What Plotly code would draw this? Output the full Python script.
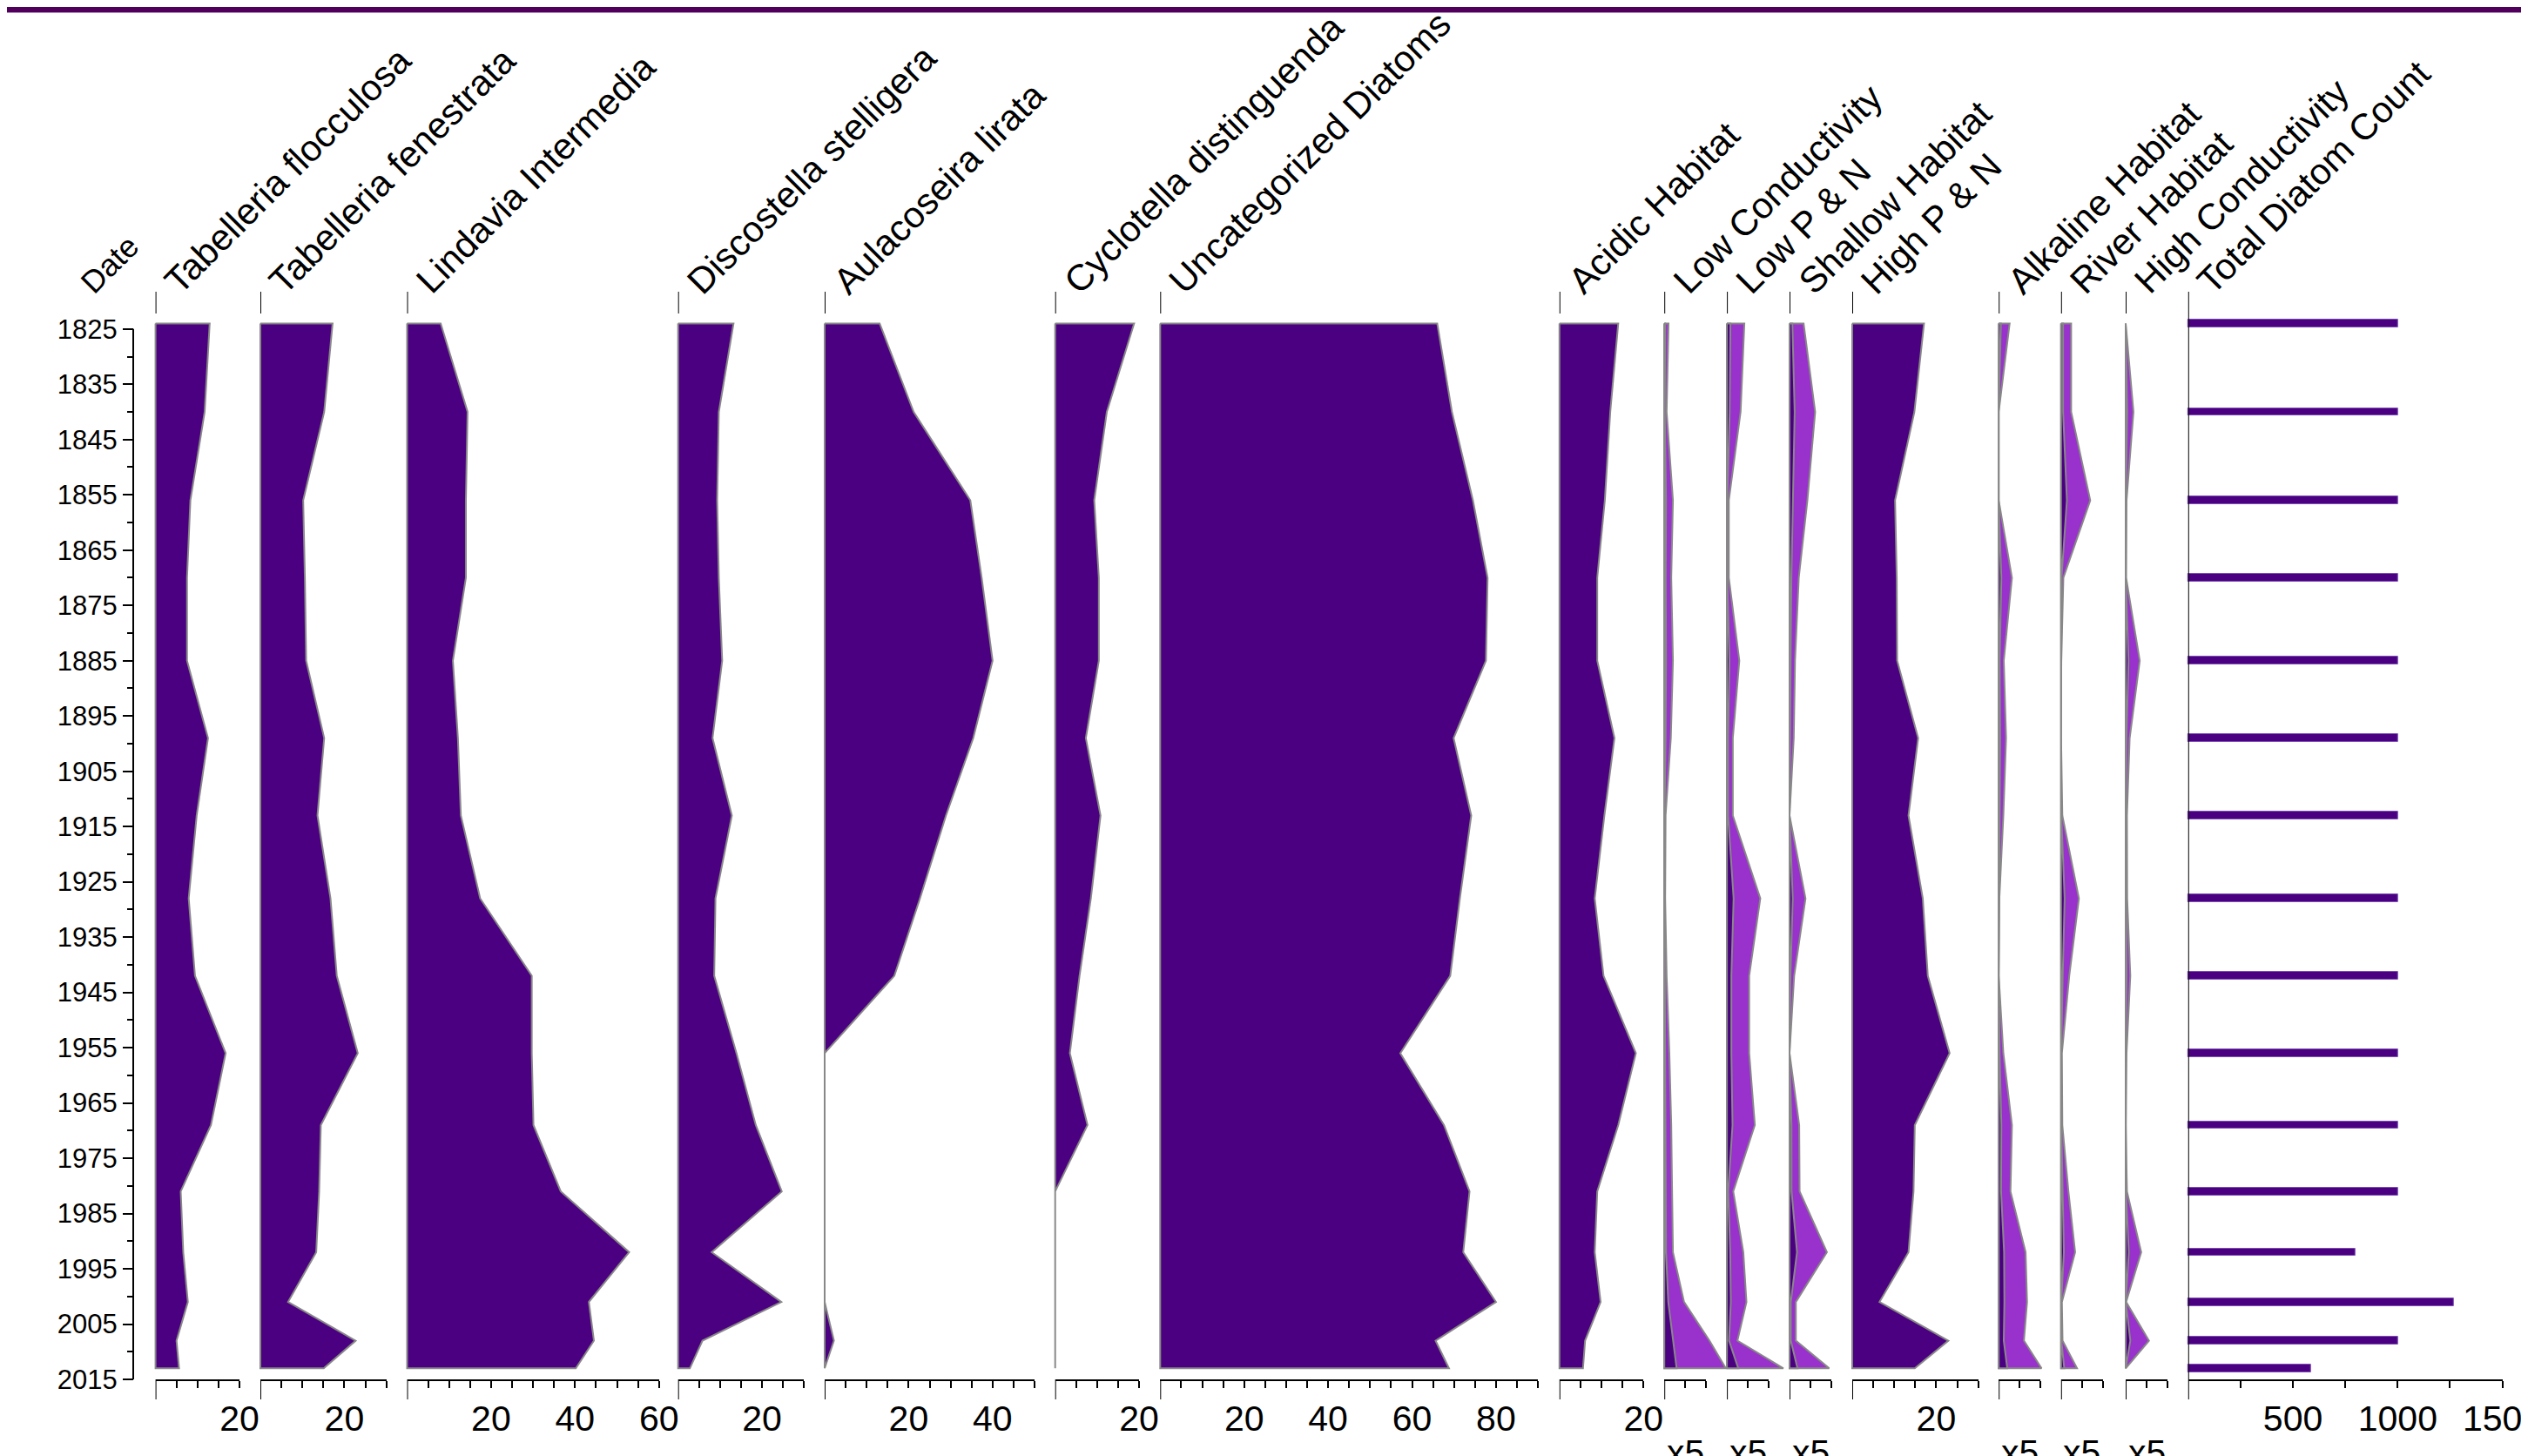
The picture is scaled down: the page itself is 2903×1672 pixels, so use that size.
import plotly.graph_objects as go

# ---------------- data ----------------
years = [1824, 1840, 1856, 1870, 1885, 1899, 1913, 1928, 1942, 1956, 1969, 1981, 1992, 2001, 2008, 2013]

tabelleria_flocculosa = [12.9, 11.7, 8.3, 7.5, 7.5, 12.5, 9.8, 7.9, 9.4, 16.7, 13.2, 6.0, 6.6, 7.7, 5.0, 5.6]
tabelleria_fenestrata = [17.2, 15.2, 10.2, 10.6, 10.9, 15.2, 13.6, 16.7, 18.2, 23.2, 14.4, 14.0, 13.3, 6.6, 22.7, 15.1]
lindavia_intermedia = [8.0, 14.4, 14.0, 14.0, 10.9, 12.1, 12.8, 17.4, 29.7, 29.7, 30.1, 36.6, 52.9, 43.3, 44.5, 40.2]
discostella_stelligera = [13.2, 9.7, 9.3, 9.7, 10.5, 8.2, 12.8, 8.9, 8.6, 13.9, 18.5, 24.7, 8.0, 24.6, 5.8, 2.8]
aulacoseira_lirata = [13.1, 21.2, 34.7, 37.4, 40.0, 35.4, 28.9, 22.7, 16.6, 0, 0, 0, 0, 0, 2.2, 0]
cyclotella_distinguenda = [18.8, 12.3, 9.3, 10.4, 10.4, 7.3, 10.8, 8.5, 5.8, 3.5, 7.7, 0, 0, 0, 0, 0]
uncategorized_diatoms = [66.0, 69.5, 74.5, 78.0, 77.6, 69.9, 74.1, 71.4, 69.1, 57.2, 67.6, 73.7, 72.2, 80.0, 65.6, 68.8]
acidic_habitat = [14.0, 12.1, 10.8, 9.0, 9.0, 13.1, 10.7, 8.4, 10.5, 18.2, 14.0, 9.0, 8.4, 9.8, 6.1, 5.6]
low_conductivity = [0.2, 0.11, 0.41, 0.33, 0.41, 0.31, 0.06, 0.04, 0.11, 0.24, 0.33, 0.37, 0.41, 0.94, 2.15, 2.93]
low_p_n = [0.83, 0.65, 0.09, 0.09, 0.59, 0.28, 0.28, 1.59, 1.06, 1.06, 1.33, 0.30, 0.78, 0.93, 0.50, 2.69]
shallow_habitat = [0.67, 1.22, 0.85, 0.44, 0.26, 0.20, 0.0, 0.76, 0.22, 0.0, 0.46, 0.48, 1.78, 0.30, 0.30, 1.89]
high_p_n = [17.1, 14.8, 10.2, 10.6, 10.7, 15.7, 13.4, 16.8, 18.0, 23.2, 14.9, 14.6, 13.4, 6.5, 22.9, 14.9]
alkaline_habitat = [0.52, 0.0, 0.0, 0.63, 0.24, 0.35, 0.22, 0.03, 0.0, 0.22, 0.63, 0.56, 1.28, 1.35, 1.20, 2.04]
river_habitat = [0.48, 0.48, 1.39, 0.11, 0.01, 0.0, 0.06, 0.85, 0.39, 0.04, 0.06, 0.35, 0.67, 0.04, 0.07, 0.76]
high_conductivity = [0.0, 0.37, 0.04, 0.02, 0.67, 0.19, 0.06, 0.07, 0.22, 0.04, 0.0, 0.06, 0.74, 0.02, 1.11, 0.0]
total_diatom_count = [1000, 1000, 1000, 1000, 1000, 1000, 1000, 1000, 1000, 1000, 1000, 1000, 800, 1270, 1000, 585]

date_tick_values = list(range(1825, 2016, 10))
date_minor_values = list(range(1830, 2011, 10))
exaggeration = 5

# ---------------- layout constants ----------------
OFF = 8                      # page body margin
W, H = 2903 - OFF, 1672 - OFF
TOP, BOT = 360, 1584         # target page pixels of plot top / bottom
PH = BOT - TOP
Y_RANGE = [2015, 1822.2]
SCALE = 4.82                 # px per percent
FONT = "Liberation Sans, Arial, sans-serif"
DARK = "#4b0082"
LIGHT = "#9932cc"
EDGE = "#888888"

def px(v):
    return (v - OFF) / W

def py(v):
    return (BOT - v) / PH

# name, values, axis max, left pixel, exaggerated?, kind, label step, minor step
panels = [
    ("Tabelleria flocculosa", tabelleria_flocculosa, 20, 178.6, False, "area", 20, 5),
    ("Tabelleria fenestrata", tabelleria_fenestrata, 30, 299.0, False, "area", 20, 5),
    ("Lindavia Intermedia", lindavia_intermedia, 60, 467.5, False, "area", 20, 5),
    ("Discostella stelligera", discostella_stelligera, 30, 778.7, False, "area", 20, 5),
    ("Aulacoseira lirata", aulacoseira_lirata, 50, 947.0, False, "area", 20, 5),
    ("Cyclotella distinguenda", cyclotella_distinguenda, 20, 1211.7, False, "area", 20, 5),
    ("Uncategorized Diatoms", uncategorized_diatoms, 90, 1332.3, False, "area", 20, 5),
    ("Acidic Habitat", acidic_habitat, 20, 1790.8, False, "area", 20, 5),
    ("Low Conductivity", low_conductivity, 10, 1911.2, True, "area", 20, 5),
    ("Low P & N", low_p_n, 10, 1983.1, True, "area", 20, 5),
    ("Shallow Habitat", shallow_habitat, 10, 2055.0, True, "area", 20, 5),
    ("High P & N", high_p_n, 30, 2127.0, False, "area", 20, 5),
    ("Alkaline Habitat", alkaline_habitat, 10, 2295.2, True, "area", 20, 5),
    ("River Habitat", river_habitat, 10, 2366.8, True, "area", 20, 5),
    ("High Conductivity", high_conductivity, 10, 2441.0, True, "area", 20, 5),
    ("Total Diatom Count", total_diatom_count, 1500, 2512.8, False, "bar", 500, 250),
]

fig = go.Figure()
layout_axes = {}
shapes = []
annotations = []

HEAD_FS = 42
TICK_FS = 41

def axname(i):
    return "xaxis" if i == 1 else f"xaxis{i}"

def axref(i):
    return "x" if i == 1 else f"x{i}"

for k, (name, vals, xmax, x0, exag, kind, step, mstep) in enumerate(panels, start=1):
    width_px = 360.8 if kind == "bar" else xmax * SCALE
    s = width_px / xmax
    x1 = x0 + width_px
    id_data, id_bot, id_top = 3 * k - 2, 3 * k - 1, 3 * k
    pad = 6
    right = min(W + OFF, x1 + 160)
    layout_axes[axname(id_data)] = dict(
        domain=[px(x0 - pad), px(right)], range=[-pad / s, (right - x0) / s],
        anchor="y", visible=False, fixedrange=True, automargin=False)
    major = [v for v in range(step, xmax + 1, step)]
    minor = [v for v in range(mstep, xmax + 1, mstep) if v % step != 0]
    layout_axes[axname(id_bot)] = dict(
        domain=[px(x0), min(1.0, px(x1))], range=[0, xmax], anchor="y", side="bottom",
        showline=True, linecolor="black", linewidth=2, showgrid=False, zeroline=False,
        ticks="outside", ticklen=8, tickwidth=2, tickcolor="black",
        tickmode="array", tickvals=major, ticktext=[str(v) for v in major],
        tickfont=dict(family=FONT, size=TICK_FS, color="black"),
        ticklabeloverflow="allow",
        minor=dict(tickvals=minor, ticks="outside", ticklen=8, tickwidth=2, tickcolor="black", showgrid=False),
        fixedrange=True, automargin=False)
    layout_axes[axname(id_top)] = dict(
        domain=[px(x0), min(1.0, px(x1))], range=[0, xmax], anchor="y", side="top",
        showline=True, linecolor="black", linewidth=2, showgrid=False, zeroline=False,
        ticks="inside", ticklen=6, tickwidth=2, tickcolor="black",
        tickmode="array", tickvals=list(range(mstep, xmax + 1, mstep)), showticklabels=False,
        fixedrange=True, automargin=False)

    if kind == "area":
        xs_list = []
        if exag:
            xs_list.append(([v * exaggeration for v in vals], LIGHT))
        xs_list.append((vals, DARK))
        for xs, col in xs_list:
            fig.add_trace(go.Scatter(
                x=[0] + list(xs) + [0, 0],
                y=[years[0]] + years + [years[-1], years[0]],
                mode="lines", fill="toself", fillcolor=col,
                line=dict(color=EDGE, width=2),
                xaxis=axref(id_data), yaxis="y", showlegend=False, hoverinfo="skip"))
        # zero ticks above and below
        shapes.append(dict(type="line", xref=axref(id_bot), yref="paper", x0=0, x1=0,
                           y0=1.0, y1=py(335), line=dict(color="black", width=2)))
        shapes.append(dict(type="line", xref=axref(id_bot), yref="paper", x0=0, x1=0,
                           y0=0.0, y1=py(1607), line=dict(color="black", width=2)))
    else:
        fig.add_trace(go.Bar(
            y=years, x=vals, orientation="h", width=1.4,
            marker=dict(color=DARK, line=dict(color="#7b4fb3", width=1)),
            xaxis=axref(id_data), yaxis="y", showlegend=False, hoverinfo="skip"))
        shapes.append(dict(type="line", xref=axref(id_bot), yref="paper", x0=0, x1=0,
                           y0=py(1607), y1=py(335), line=dict(color="black", width=2)))

    # header label (rotated 45 deg)
    bx, by = x0 + 4, 340
    annotations.append(dict(
        text=name, textangle=-45, xref="paper", yref="paper",
        x=px(bx - 0.707 * HEAD_FS + 24), y=py(by + 0.212 * HEAD_FS),
        xanchor="left", yanchor="bottom", showarrow=False,
        font=dict(family=FONT, size=HEAD_FS, color="black")))
    if exag:
        annotations.append(dict(
            text="x5", xref="paper", yref="paper", x=px((x0 + x1) / 2), y=py(1643),
            xanchor="center", yanchor="top", showarrow=False,
            font=dict(family=FONT, size=TICK_FS, color="black")))

DATE_FS = 36
annotations.append(dict(
    text="Date", textangle=-45, xref="paper", yref="paper",
    x=px(93 - 0.707 * DATE_FS + 14), y=py(340 + 0.212 * DATE_FS),
    xanchor="left", yanchor="bottom", showarrow=False,
    font=dict(family=FONT, size=DATE_FS, color="black")))

# y axis line (spans 1825 - 2015)
shapes.append(dict(type="line", xref="paper", yref="y", x0=px(153), x1=px(153),
                   y0=1825, y1=2015, line=dict(color="black", width=2)))
# top band (drawn at the very top of the figure)
shapes.append(dict(type="rect", xref="paper", yref="paper", x0=-0.01, x1=1.01,
                   y0=py(OFF - 2), y1=py(OFF + 6), fillcolor="#50005a", line=dict(width=0), layer="above"))
shapes.append(dict(type="rect", xref="paper", yref="paper", x0=-0.01, x1=1.01,
                   y0=py(OFF + 6), y1=py(OFF + 7), fillcolor="#b48cc6", line=dict(width=0), layer="above"))

fig.update_layout(
    template="none",
    width=W, height=H,
    autosize=False,
    margin=dict(l=0, r=0, t=TOP - OFF, b=H - (BOT - OFF), pad=0, autoexpand=False),
    paper_bgcolor="white", plot_bgcolor="rgba(0,0,0,0)",
    showlegend=False,
    font=dict(family=FONT, color="black"),
    yaxis=dict(
        domain=[0, 1], range=Y_RANGE, anchor="free", position=px(153), side="left",
        showline=False, showgrid=False, zeroline=False, automargin=False,
        ticks="outside", ticklen=12, tickwidth=2, tickcolor="black",
        tickmode="array", tickvals=date_tick_values, ticktext=[str(v) for v in date_tick_values],
        tickfont=dict(family=FONT, size=31, color="black"),
        minor=dict(tickvals=date_minor_values, ticks="outside", ticklen=7, tickwidth=2, tickcolor="black", showgrid=False),
        fixedrange=True),
    shapes=shapes, annotations=annotations,
    bargap=0,
    **layout_axes,
)

fig.write_html("out.html")
